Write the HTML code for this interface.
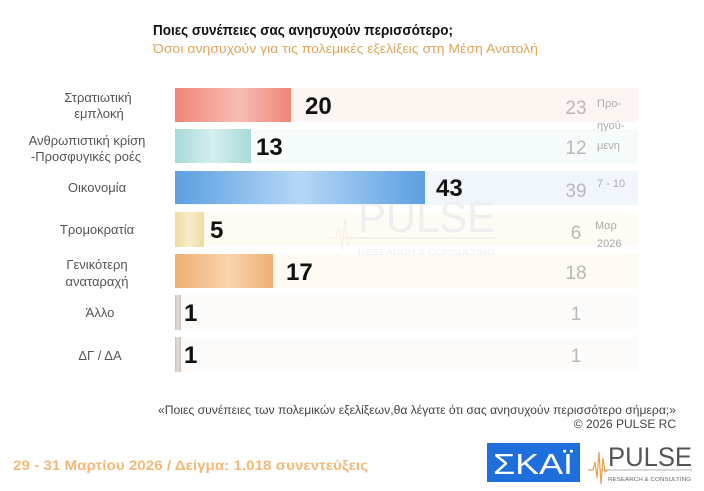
<!DOCTYPE html>
<html><head><meta charset="utf-8"><style>
html,body{margin:0;padding:0;background:#fff;}
svg{display:block;font-family:"Liberation Sans","DejaVu Sans",sans-serif;}
</style></head><body>
<svg width="704" height="491" viewBox="0 0 704 491" xmlns="http://www.w3.org/2000/svg">
<defs>
<linearGradient id="gR" x1="0" x2="1"><stop offset="0" stop-color="#ef8576"/><stop offset="0.55" stop-color="#f8bdb4"/><stop offset="1" stop-color="#ef8576"/></linearGradient>
<linearGradient id="gC" x1="0" x2="1"><stop offset="0" stop-color="#a9d9d8"/><stop offset="0.5" stop-color="#d3efef"/><stop offset="1" stop-color="#a9d9d8"/></linearGradient>
<linearGradient id="gB" x1="0" x2="1"><stop offset="0" stop-color="#5b9fe2"/><stop offset="0.5" stop-color="#b5d7f5"/><stop offset="1" stop-color="#5b9fe2"/></linearGradient>
<linearGradient id="gY" x1="0" x2="1"><stop offset="0" stop-color="#efdba2"/><stop offset="0.5" stop-color="#f8edc9"/><stop offset="1" stop-color="#efdba2"/></linearGradient>
<linearGradient id="gO" x1="0" x2="1"><stop offset="0" stop-color="#efb073"/><stop offset="0.55" stop-color="#f9d3ab"/><stop offset="1" stop-color="#efb073"/></linearGradient>
<linearGradient id="gG" x1="0" x2="1"><stop offset="0" stop-color="#c9bfb5"/><stop offset="0.5" stop-color="#e6e0da"/><stop offset="1" stop-color="#c9bfb5"/></linearGradient>
</defs>

<!-- title -->
<text x="153" y="35" font-size="15" font-weight="bold" fill="#111" textLength="300" lengthAdjust="spacingAndGlyphs">Ποιες συνέπειες σας ανησυχούν περισσότερο;</text>
<text x="153" y="53" font-size="13" fill="#e2a45c" textLength="385" lengthAdjust="spacingAndGlyphs">Όσοι ανησυχούν για τις πολεμικές εξελίξεις στη Μέση Ανατολή</text>

<!-- background bands -->
<rect x="175" y="88" width="463" height="34" fill="#fdf5f2"/>
<rect x="175" y="129" width="463" height="34" fill="#f5fafb"/>
<rect x="175" y="171" width="463" height="34" fill="#f0f6fc"/>
<rect x="175" y="212" width="463" height="34" fill="#fdfbf3"/>
<rect x="175" y="254" width="463" height="34" fill="#fef9f3"/>
<rect x="175" y="295" width="463" height="34" fill="#fcfbfa"/>
<rect x="175" y="337" width="463" height="34" fill="#fcfbfa"/>

<!-- watermark -->
<g>
<text x="358" y="232" font-size="44" fill="#efefef" textLength="137" lengthAdjust="spacingAndGlyphs">PULSE</text>
<line x1="345" y1="238" x2="495" y2="238" stroke="#f5e8e3" stroke-width="1.2"/>
<text x="358" y="255" font-size="8" fill="#efefef" textLength="137" lengthAdjust="spacingAndGlyphs">RESEARCH &amp; CONSULTING</text>
<polyline points="330,238 336,238 339,226 342,250 345,218 348,246 351,238 356,238" fill="none" stroke="#f8eee4" stroke-width="1"/>
</g>

<!-- bars -->
<rect x="175" y="88" width="116" height="34" fill="url(#gR)"/>
<rect x="175" y="129" width="76" height="34" fill="url(#gC)"/>
<rect x="175" y="171" width="250" height="33" fill="url(#gB)"/>
<rect x="175" y="212" width="29" height="35" fill="url(#gY)"/>
<rect x="175" y="254" width="98" height="34" fill="url(#gO)"/>
<rect x="175" y="295" width="6" height="35" fill="url(#gG)"/>
<rect x="175" y="337" width="6" height="35" fill="url(#gG)"/>

<!-- values -->
<g font-size="24" font-weight="bold" fill="#111">
<text x="305" y="114">20</text>
<text x="256" y="155">13</text>
<text x="436" y="196">43</text>
<text x="210" y="238">5</text>
<text x="286" y="280">17</text>
<text x="184" y="321">1</text>
<text x="184" y="363">1</text>
</g>

<!-- categories -->
<g font-size="13" fill="#555" text-anchor="middle">
<text x="98" y="102">Στρατιωτική</text>
<text x="99" y="118">εμπλοκή</text>
<text x="87" y="145">Ανθρωπιστική κρίση</text>
<text x="86" y="161">-Προσφυγικές ροές</text>
<text x="97" y="192">Οικονομία</text>
<text x="97" y="234">Τρομοκρατία</text>
<text x="97" y="269">Γενικότερη</text>
<text x="97" y="286">αναταραχή</text>
<text x="100" y="317">Άλλο</text>
<text x="100" y="360">ΔΓ / ΔΑ</text>
</g>

<!-- previous values -->
<g font-size="19" fill="#b8b8b8" text-anchor="middle">
<text x="576" y="114">23</text>
<text x="576" y="154">12</text>
<text x="576" y="197">39</text>
<text x="576" y="239">6</text>
<text x="576" y="279">18</text>
<text x="576" y="320">1</text>
<text x="576" y="362">1</text>
</g>
<g font-size="11" fill="#aaaaaa">
<text x="597" y="107">Προ-</text>
<text x="597" y="129">ηγού-</text>
<text x="597" y="149">μενη</text>
<text x="597" y="187">7 - 10</text>
<text x="595" y="229">Μαρ</text>
<text x="597" y="247">2026</text>
</g>

<!-- footnote -->
<text x="158" y="414" font-size="12" fill="#444" textLength="518" lengthAdjust="spacingAndGlyphs">«Ποιες συνέπειες των πολεμικών εξελίξεων,θα λέγατε ότι σας ανησυχούν περισσότερο σήμερα;»</text>
<text x="676" y="428" font-size="12" fill="#444" text-anchor="end">©  2026  PULSE RC</text>

<!-- footer date -->
<text x="13" y="470" font-size="14" font-weight="bold" fill="#f2b877" textLength="355" lengthAdjust="spacingAndGlyphs">29 - 31  Μαρτίου 2026  /  Δείγμα:  1.018 συνεντεύξεις</text>

<!-- SKAI logo -->
<rect x="487" y="443" width="93" height="39" fill="#1e6fdb"/>
<text x="533" y="474" font-size="29" fill="#fff" text-anchor="middle" textLength="80" lengthAdjust="spacingAndGlyphs">ΣΚΑΪ</text>

<!-- PULSE logo -->
<text x="608" y="466" font-size="27" fill="#555" textLength="84" lengthAdjust="spacingAndGlyphs">PULSE</text>
<line x1="600" y1="470" x2="692" y2="470" stroke="#999" stroke-width="0.8"/>
<text x="608" y="481" font-size="5.5" fill="#666" textLength="83" lengthAdjust="spacingAndGlyphs">RESEARCH &amp; CONSULTING</text>
<polyline points="588,470 593,470 595,462 597,478 599,452 601,484 603,458 605,472 608,470" fill="none" stroke="#e9a04a" stroke-width="1.2"/>
</svg>
</body></html>
